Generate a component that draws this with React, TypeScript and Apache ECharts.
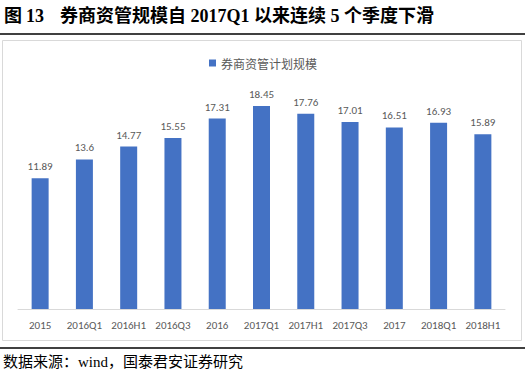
import React, { useEffect, useRef } from "react";
import * as echarts from "echarts";

const categories = ["2015", "2016Q1", "2016H1", "2016Q3", "2016", "2017Q1", "2017H1", "2017Q3", "2017", "2018Q1", "2018H1"];
const values = [11.89, 13.6, 14.77, 15.55, 17.31, 18.45, 17.76, 17.01, 16.51, 16.93, 15.89];
const seriesName = "券商资管计划规模";
const titleFigure = "图";
const titleNumber = "13";
const titleText = "券商资管规模自 2017Q1 以来连续 5 个季度下滑";
const sourceText = "数据来源：wind，国泰君安证券研究";

export default function App() {
  const ref = useRef<HTMLDivElement>(null);
  useEffect(() => {
    if (!ref.current) return;
    const chart = echarts.init(ref.current, null, { renderer: "svg" });
    const latin = "Calibri, Carlito, 'Noto Sans', 'Noto Sans CJK SC', sans-serif";
    const titleFont = "bold 18px 'Liberation Serif', 'Noto Sans CJK SC', serif";
    chart.setOption({
      animation: false,
      backgroundColor: "#ffffff",
      legend: {
        data: [seriesName],
        top: 52,
        left: "center",
        icon: "rect",
        itemWidth: 7,
        itemHeight: 7,
        itemGap: 5,
        textStyle: { color: "#595959", fontSize: 12, fontFamily: "'Noto Sans CJK SC', sans-serif" },
      },
      grid: { left: 18, right: 21, top: 89, bottom: 65, containLabel: false },
      xAxis: {
        type: "category",
        data: categories,
        axisLine: { lineStyle: { color: "#D9D9D9", width: 1 } },
        axisTick: { show: false },
        axisLabel: { color: "#595959", fontSize: 11, fontFamily: latin, margin: 11, interval: 0 },
      },
      yAxis: {
        type: "value",
        min: 0,
        max: 20,
        show: false,
        splitLine: { show: false },
      },
      series: [
        {
          name: seriesName,
          type: "bar",
          data: values,
          barWidth: 17,
          itemStyle: { color: "#4472C4" },
          label: {
            show: true,
            position: "top",
            distance: 6,
            color: "#595959",
            fontSize: 11,
            fontFamily: latin,
          },
        },
      ],
      graphic: [
        {
          type: "text",
          x: 4,
          y: 16,
          style: { text: titleFigure, fill: "#000000", font: titleFont, verticalAlign: "middle" },
        },
        {
          type: "text",
          x: 26,
          y: 16,
          style: { text: titleNumber, fill: "#000000", font: titleFont, verticalAlign: "middle" },
        },
        {
          type: "text",
          x: 60,
          y: 16,
          style: { text: titleText, fill: "#000000", font: titleFont, verticalAlign: "middle" },
        },
        {
          type: "line",
          shape: { x1: 0, y1: 34, x2: 525, y2: 34 },
          style: { stroke: "#000000", lineWidth: 1.5 },
        },
        {
          type: "rect",
          shape: { x: 2.5, y: 40.5, width: 519, height: 300 },
          style: { fill: "none", stroke: "#D9D9D9", lineWidth: 1 },
        },
        {
          type: "line",
          shape: { x1: 0, y1: 348, x2: 525, y2: 348 },
          style: { stroke: "#000000", lineWidth: 1.5 },
        },
        {
          type: "text",
          x: 3,
          y: 362,
          style: {
            text: sourceText,
            fill: "#000000",
            font: "15px 'Liberation Serif', 'Noto Sans CJK SC', serif",
            verticalAlign: "middle",
          },
        },
      ],
    });
    return () => chart.dispose();
  }, []);
  return <div ref={ref} style={{ position: "fixed", left: 0, top: 0, width: 526, height: 374 }} />;
}
